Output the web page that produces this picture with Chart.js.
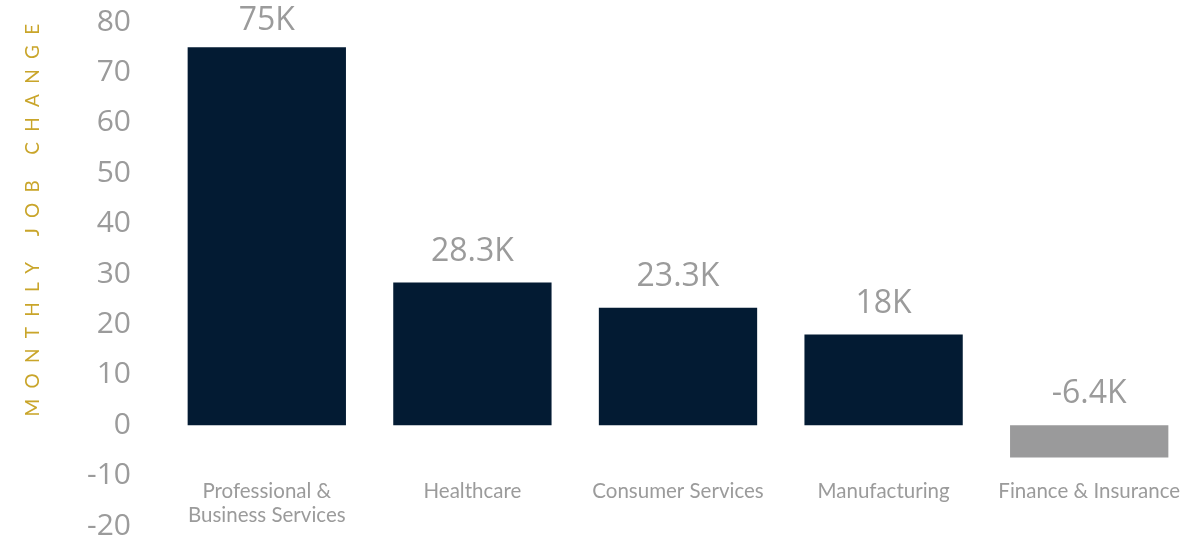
<!DOCTYPE html>
<html>
<head>
<meta charset="utf-8">
<script src="https://cdn.jsdelivr.net/npm/chart.js@4"></script>
<style>
html,body{margin:0;padding:0;background:#fff;}
#wrap{width:1200px;height:539px;position:relative;}
</style>
</head>
<body>
<div id="wrap"><canvas id="c" width="1200" height="539"></canvas></div>
<script>
const categories = [["Professional &","Business Services"],"Healthcare","Consumer Services","Manufacturing","Finance & Insurance"];
const jobChange = [75, 28.3, 23.3, 18, -6.4];
const valueLabels = ["75K","28.3K","23.3K","18K","-6.4K"];
const yTicks = [-20,-10,0,10,20,30,40,50,60,70,80];
const axisTitle = "MONTHLY JOB CHANGE";

const NAVY = "#031b33";
const NEG = "#9a9a9b";
const GRAY = "#9b9b9b";
const GOLD = "#c9a52a";

const labelPlugin = {
  id: 'valueLabels',
  afterDatasetsDraw(chart) {
    const ctx = chart.ctx;
    const meta = chart.getDatasetMeta(0);
    const y = chart.scales.y;
    ctx.save();
    ctx.font = '32px "Open Sans", Lato, sans-serif';
    ctx.fillStyle = GRAY;
    ctx.textAlign = 'center';
    ctx.textBaseline = 'middle';
    meta.data.forEach((bar, i) => {
      const top = y.getPixelForValue(Math.max(jobChange[i], 0));
      let cy = top - 31;
      if (cy < 21) cy = 21;
      ctx.fillText(valueLabels[i], bar.x, cy);
    });
    ctx.restore();
  }
};

const titlePlugin = {
  id: 'axisTitle',
  afterDraw(chart) {
    const ctx = chart.ctx;
    ctx.save();
    ctx.translate(33, 220);
    ctx.rotate(-Math.PI/2);
    ctx.font = '19px Lato, sans-serif';
    ctx.letterSpacing = '10.3px';
    ctx.fillStyle = GOLD;
    ctx.textAlign = 'center';
    ctx.textBaseline = 'middle';
    ctx.fillText(axisTitle, 5, 0);
    ctx.restore();
  }
};

new Chart(document.getElementById('c'), {
  type: 'bar',
  data: {
    labels: categories,
    datasets: [{
      data: jobChange,
      backgroundColor: jobChange.map(v => v < 0 ? NEG : NAVY),
      borderWidth: 0,
      categoryPercentage: 1.0,
      barPercentage: 0.77
    }]
  },
  options: {
    responsive: false,
    animation: false,
    layout: { padding: { left: 0, right: 8, top: 22, bottom: 13 } },
    plugins: { legend: { display: false }, tooltip: { enabled: false } },
    scales: {
      x: {
        position: { y: -10 },
        afterFit(scale) { scale.height = 0; scale.paddingLeft = 0; scale.paddingRight = 0; },
        grid: { display: false },
        border: { display: false },
        ticks: {
          color: GRAY,
          font: { family: 'Lato, sans-serif', size: 20.5 },
          padding: -5,
          maxRotation: 0,
          autoSkip: false
        }
      },
      y: {
        min: -20,
        max: 80,
        afterFit(scale) { scale.width = 164; scale.paddingTop = 0; scale.paddingBottom = 0; },
        afterBuildTicks(scale) { scale.ticks = yTicks.map(v => ({ value: v })); },
        grid: { display: false },
        border: { display: false },
        ticks: {
          color: GRAY,
          font: { family: '"Open Sans", Lato, sans-serif', size: 30 },
          padding: 25
        }
      }
    }
  },
  plugins: [labelPlugin, titlePlugin]
});
</script>
</body>
</html>
